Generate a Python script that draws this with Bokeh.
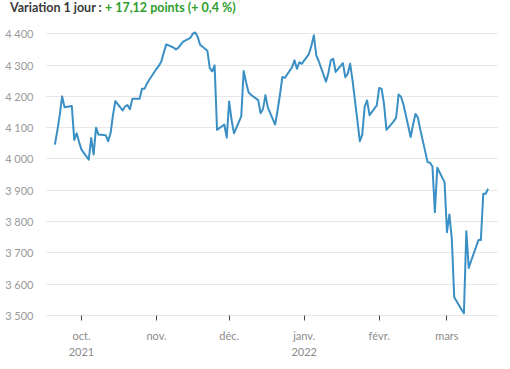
import pandas as pd
from bokeh.plotting import figure
from bokeh.layouts import column
from bokeh.models import (Range1d, FixedTicker, CustomJSTickFormatter, Div,
                          ColumnDataSource)
from bokeh.embed import file_html
from bokeh.resources import INLINE

# ---------------- data ----------------
dates = pd.bdate_range("2021-09-20", "2022-03-18")
values = [
    # Sept 2021
    4046, 4090, 4140, 4200, 4165, 4169, 4061, 4082, 4054,
    # Oct 2021
    4030, 3998, 4067, 4014, 4100, 4078, 4076, 4057, 4082, 4140, 4185,
    4155, 4168, 4172, 4159, 4192, 4192, 4224, 4224, 4240, 4253,
    # Nov 2021
    4288, 4298, 4312, 4340, 4366, 4356, 4350, 4355, 4365, 4375, 4387,
    4400, 4404, 4390, 4365, 4346, 4290, 4280, 4299, 4093, 4110, 4068,
    # Dec 2021
    4184, 4125, 4082, 4136, 4281, 4245, 4213, 4205, 4188, 4146, 4160,
    4204, 4164, 4110, 4155, 4206, 4262, 4259, 4293, 4315, 4288, 4309, 4304,
    # Jan 2022
    4336, 4362, 4395, 4331, 4313, 4247, 4275, 4315, 4320, 4278, 4306,
    4261, 4272, 4304, 4250, 4057, 4078, 4167, 4187, 4140, 4171,
    # Feb 2022
    4227, 4224, 4175, 4093, 4120, 4132, 4206, 4199, 4175, 4070, 4110,
    4144, 4132, 4093, 3990, 3988, 3976, 3830, 3972, 3926,
    # Mar 2022
    3766, 3823, 3745, 3558, 3519, 3507, 3769, 3652, 3675, 3741, 3741,
    3889, 3889, 3905,
]
assert len(values) == len(dates), (len(values), len(dates))

y_ticks = [3500, 3600, 3700, 3800, 3900, 4000, 4100, 4200, 4300, 4400]
y_tick_labels = ["3 500", "3 600", "3 700", "3 800", "3 900",
                 "4 000", "4 100", "4 200", "4 300", "4 400"]
month_ticks = ["2021-10-01", "2021-11-01", "2021-12-01",
               "2022-01-01", "2022-02-01", "2022-03-01"]
month_labels = ["oct.", "nov.", "déc.", "janv.", "févr.", "mars"]
year_labels = ["2021", "", "", "2022", "", ""]
title_main = "Variation 1 jour :"
title_change = "+ 17,12 points (+ 0,4 %)"

# ---------------- styles ----------------
FONT = "Lato"
LINE_COLOR = "#3a8fc4"
GRID_COLOR = "#e8e8e8"
LABEL_COLOR = "#9a9a9a"

TOTAL_W, TOTAL_H = 510, 369
TITLE_H = 20
W, H = TOTAL_W, TOTAL_H - TITLE_H
BL, BR, BT, BB = 45, 12, 7, 54

title = Div(
    text=(f'<span style="color:#3a3a3a">{title_main}</span> '
          f'<span style="color:#2e9e2e">{title_change}</span>'),
    width=TOTAL_W - 10, height=TITLE_H, margin=(0, 0, 0, 10),
    styles={"font-family": FONT, "font-size": "12.5px",
            "font-weight": "bold", "line-height": "16px",
            "white-space": "nowrap"})

src = ColumnDataSource(data=dict(date=dates, value=values))

p = figure(width=W, height=H, x_axis_type="datetime",
           output_backend="svg", toolbar_location=None,
           x_range=Range1d(pd.Timestamp("2021-09-16 03:00"),
                           pd.Timestamp("2022-03-22 07:00")),
           y_range=Range1d(3500, 4420),
           min_border_left=BL, min_border_right=BR,
           min_border_top=BT, min_border_bottom=BB, margin=0)
p.outline_line_color = None
p.background_fill_color = "white"
p.border_fill_color = "white"

p.line(x="date", y="value", source=src, line_color=LINE_COLOR,
       line_width=2, line_join="round")

# grid
p.xgrid.visible = False
p.ygrid.ticker = FixedTicker(ticks=y_ticks)
p.ygrid.grid_line_color = GRID_COLOR
p.ygrid.grid_line_width = 1

# y axis
p.yaxis.ticker = FixedTicker(ticks=y_ticks, minor_ticks=[])
p.yaxis.major_label_overrides = {t: l for t, l in zip(y_ticks, y_tick_labels)}
p.yaxis.axis_line_color = None
p.yaxis.major_tick_line_color = None
p.yaxis.minor_tick_line_color = None
p.yaxis.major_label_standoff = 6
p.yaxis.major_label_text_color = LABEL_COLOR
p.yaxis.major_label_text_font = FONT
p.yaxis.major_label_text_font_size = "11px"

# x axis
tick_ms = [pd.Timestamp(d).value / 1e6 for d in month_ticks]
p.xaxis.ticker = FixedTicker(ticks=tick_ms, minor_ticks=[])
p.xaxis.formatter = CustomJSTickFormatter(
    args=dict(tks=tick_ms, months=month_labels, years=year_labels),
    code="""
    let i = -1;
    for (let k = 0; k < tks.length; k++) {
        if (Math.abs(tks[k] - tick) < 1000) { i = k; break; }
    }
    if (i < 0) return "";
    return years[i] ? months[i] + "\\n" + years[i] : months[i];
    """)
p.xaxis.axis_line_color = GRID_COLOR
p.xaxis.major_tick_line_color = "#444444"
p.xaxis.major_tick_out = 5
p.xaxis.major_tick_in = 0
p.xaxis.minor_tick_line_color = None
p.xaxis.major_label_standoff = 8
p.xaxis.major_label_text_color = "#8c8c8c"
p.xaxis.major_label_text_font = FONT
p.xaxis.major_label_text_font_size = "11px"
p.xaxis.major_label_text_line_height = 1.25

layout = column(title, p, spacing=0, margin=0)
open("out.html", "w").write(file_html(layout, INLINE))
